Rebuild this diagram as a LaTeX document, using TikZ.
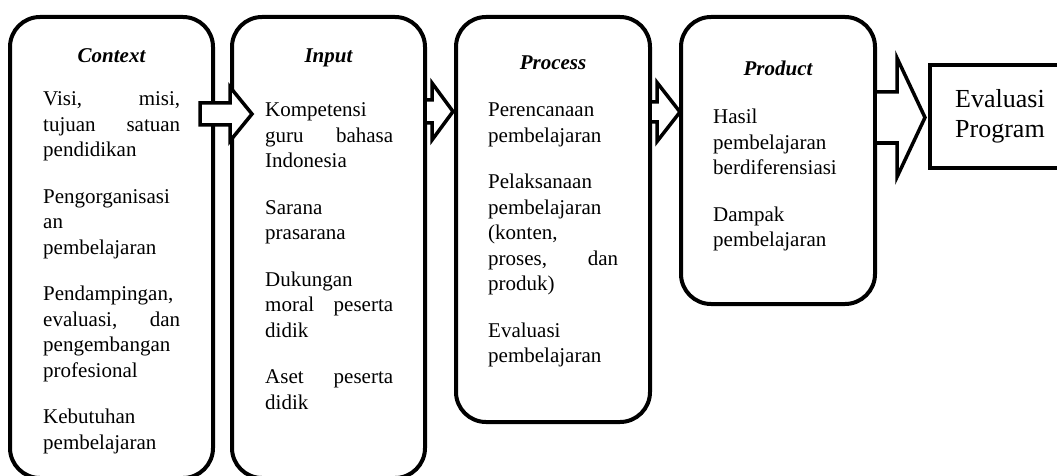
\documentclass[tikz,border=0pt]{standalone}
\usepackage{fontspec}
\setmainfont{Liberation Serif}
\usetikzlibrary{calc}

% block arrow: source, target, y, start shift, tip shift, shaft half, head half, head length
\newcommand{\fatarrow}[8]{%
  \draw[fat] let \p1=(#1.east), \p2=(#2.west), \p3=(0,#3) in
    (\x1+#4,\y3-#6) -- (\x2+#5-#8,\y3-#6) -- (\x2+#5-#8,\y3-#7) -- (\x2+#5,\y3)
    -- (\x2+#5-#8,\y3+#7) -- (\x2+#5-#8,\y3+#6) -- (\x1+#4,\y3+#6) -- cycle;}

\begin{document}
\begin{tikzpicture}[x=1pt,y=-1pt]
		\tikzset{box/.style={draw, line width=4pt, rounded corners=30pt, inner sep=0pt, outer sep=0pt}}
		\tikzset{head/.style={font=\fontsize{21}{25.5}\selectfont\bfseries\itshape, inner sep=0pt, anchor=base}}
		\tikzset{body/.style={font=\fontsize{21}{25.5}\selectfont, align=left, inner sep=0pt, anchor=base west}}
		\tikzset{fat/.style={draw, fill=white, line width=3.5pt}}
		\useasboundingbox (0,0) rectangle (1057,476);
					%boxes
					\node[box, minimum width=203pt, minimum height=461pt] (context) at (111.5,247.5) {};
					\node[box, minimum width=193pt, minimum height=461pt] (input) at (328.5,247.5) {};
					\node[box, minimum width=194pt, minimum height=405pt] (process) at (553,219.5) {};
					\node[box, minimum width=194pt, minimum height=287pt] (product) at (778,160.5) {};
					\node[draw, line width=4pt, inner sep=0pt, outer sep=0pt, minimum width=150pt, minimum height=103pt] (evaluasi) at (1005,116.5) {};
					%titles
					\node[head] (ctxhead) at (111.5,63) {Context};
					\node[head] (inphead) at (328.5,63) {Input};
					\node[head] (prchead) at (553,70) {Process};
					\node[head] (prdhead) at (778,76) {Product};
					%texts
					\node[body, text width=137pt] (ctxtext) at (43,106) {Visi,\hfill misi,\\ tujuan\hfill satuan\\ pendidikan\\[21pt] Pengorganisasi\\ an\\ pembelajaran\\[21pt] Pendampingan,\\ evaluasi,\hfill dan\\ pengembangan\\ profesional\\[21pt] Kebutuhan\\ pembelajaran};
					\node[body, text width=128pt] (inptext) at (265,117) {Kompetensi\\ guru\hfill bahasa\\ Indonesia\\[21pt] Sarana\\ prasarana\\[21pt] Dukungan\\ moral\hfill peserta\\ didik\\[21pt] Aset\hfill peserta\\ didik};
					\node[body, text width=130pt] (prctext) at (488,117) {Perencanaan\\ pembelajaran\\[21pt] Pelaksanaan\\ pembelajaran\\ (konten,\\ proses,\hfill dan\\ produk)\\[21pt] Evaluasi\\ pembelajaran};
					\node[body, text width=130pt] (prdtext) at (713,124) {Hasil\\ pembelajaran\\ berdiferensiasi\\[21pt] Dampak\\ pembelajaran};
					\node[body, text width=100pt, font=\fontsize{26}{30}\selectfont] (evaltext) at (955,108) {Evaluasi\\ Program};
					%arrows
					\fatarrow{context}{input}{114}{-13pt}{20pt}{11pt}{27pt}{22pt}
					\fatarrow{input}{process}{111.5}{0pt}{-3pt}{11.5pt}{28.5pt}{21pt}
					\fatarrow{process}{product}{112}{0pt}{-1pt}{10pt}{29.5pt}{23pt}
					\fatarrow{product}{evaluasi}{117.5}{0pt}{-5pt}{25.5pt}{59.5pt}{28pt}
					
\end{tikzpicture}
\end{document}
